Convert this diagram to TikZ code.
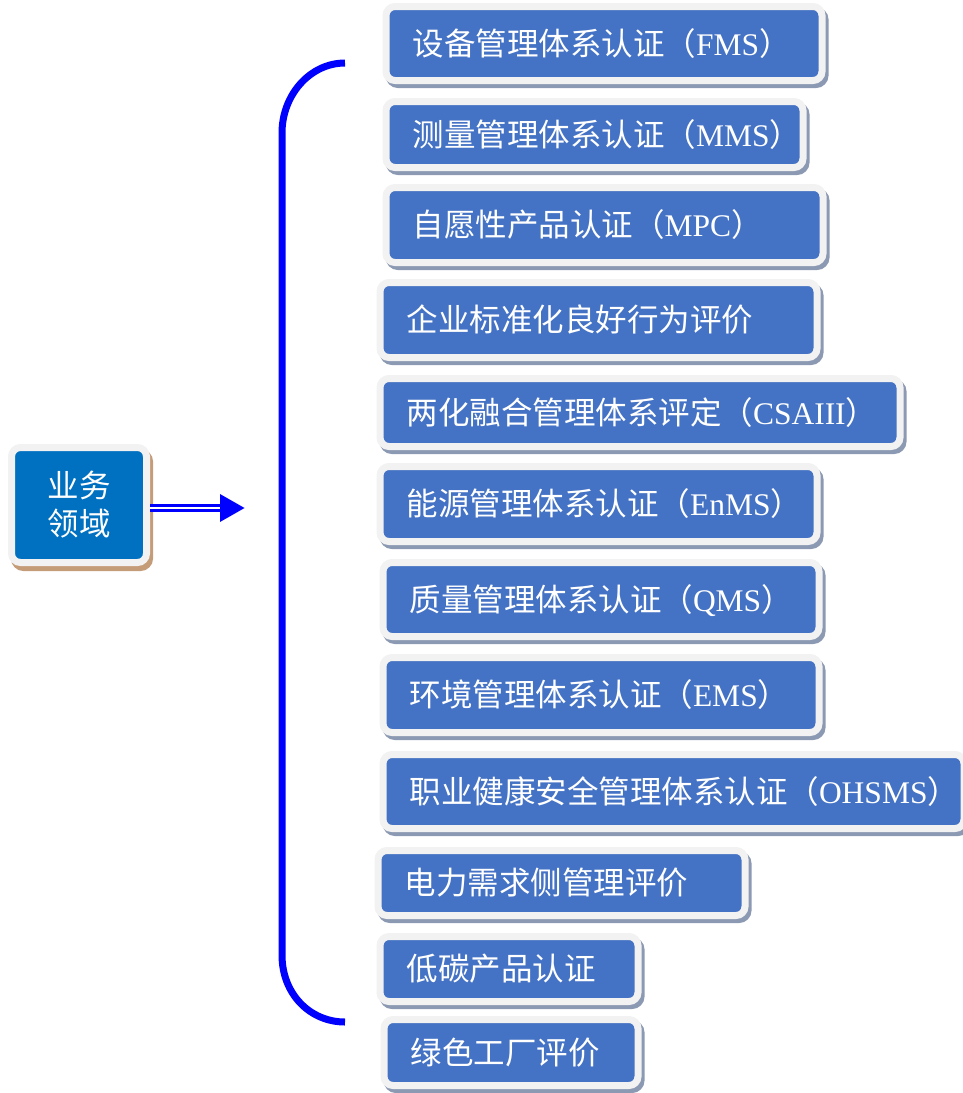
\documentclass[tikz,border=0pt]{standalone}
\usepackage{fontspec}
\setmainfont{Liberation Serif}
\newfontfamily\cjk{Noto Sans CJK SC}
\usepackage{tikz}
\usetikzlibrary{arrows.meta,shadows}

\definecolor{itemblue}{HTML}{4472C4}
\definecolor{domainblue}{HTML}{0070C0}
\definecolor{framegray}{HTML}{F2F2F2}
\definecolor{itemshadow}{HTML}{8C99B3}
\definecolor{domainshadow}{HTML}{C59C78}
\definecolor{linkblue}{HTML}{0000FF}
\newcommand{\zh}[1]{{\cjk #1}}

\begin{document}
\begin{tikzpicture}[x=1pt, y=-1pt,
  item/.style={anchor=west, fill=itemblue, draw=framegray, line width=7pt, rounded corners=9pt, text=white, inner xsep=26.5pt, inner ysep=0pt, align=left, text height=23.6pt, text depth=0pt, font=\fontsize{31.5pt}{38pt}\selectfont, drop shadow={shadow xshift=3pt, shadow yshift=-4pt, opacity=1, fill=itemshadow, draw=itemshadow, line width=7pt}},
  domainbox/.style={fill=domainblue, draw=framegray, line width=7pt, rounded corners=9pt, text=white, align=center, font=\cjk\fontsize{31.5pt}{38pt}\selectfont, drop shadow={shadow xshift=3pt, shadow yshift=-5pt, opacity=1, fill=domainshadow, draw=domainshadow, line width=7pt}},
  conn/.style={linkblue, line width=8pt, -{Triangle[length=25pt, width=26pt]}, postaction={draw=white, line width=2pt, -, shorten >=25pt}},
  bracket/.style={linkblue, line width=7pt}]
\useasboundingbox (0,0) rectangle (962,1093);
% left box
\node[domainbox, minimum width=135pt, minimum height=115pt] (domain) at (79,505) {业务\\领域};
% items
\node[item, minimum height=74pt, text width=383pt] (fms) at (382.5,43.5) {\zh{设备管理体系认证（}FMS\zh{）}};
\node[item, minimum height=66pt, text width=364pt] (mms) at (382.5,134.5) {\zh{测量管理体系认证（}MMS\zh{）}};
\node[item, minimum height=75pt, text width=384pt] (mpc) at (382.5,225) {\zh{自愿性产品认证（}MPC\zh{）}};
\node[item, minimum height=75pt, text width=384pt] (standard) at (376.5,320) {\zh{企业标准化良好行为评价}};
\node[item, minimum height=68pt, text width=467pt] (csa) at (376.5,412.5) {\zh{两化融合管理体系评定（}CSAIII\zh{）}};
\node[item, minimum height=75pt, text width=384pt] (enms) at (376.5,504) {\zh{能源管理体系认证（}EnMS\zh{）}};
\node[item, minimum height=74pt, text width=383pt] (qms) at (379.5,599.5) {\zh{质量管理体系认证（}QMS\zh{）}};
\node[item, minimum height=75pt, text width=383pt] (ems) at (379.5,695) {\zh{环境管理体系认证（}EMS\zh{）}};
\node[item, minimum height=74pt, text width=528pt] (ohsms) at (379.5,791.5) {\zh{职业健康安全管理体系认证（}OHSMS\zh{）}};
\node[item, minimum height=65pt, text width=314pt] (demand) at (374.5,883) {\zh{电力需求侧管理评价}};
\node[item, minimum height=65pt, text width=205pt] (lowcarbon) at (376.5,969) {\zh{低碳产品认证}};
\node[item, minimum height=66pt, text width=201pt] (greenfactory) at (380.5,1052.5) {\zh{绿色工厂评价}};
% arrow and bracket
\coordinate (arrowtip) at (245,508);
\coordinate (bracetop) at (345,63);
\coordinate (bracebot) at (345,1022);
\draw[conn] ([yshift=-3pt]domain.east) -- (arrowtip);
\draw[bracket] (bracetop) .. controls (310,63) and (282,95) .. (282,133) -- (282,955) .. controls (282,994) and (310,1022) .. (bracebot);
\end{tikzpicture}
\end{document}
